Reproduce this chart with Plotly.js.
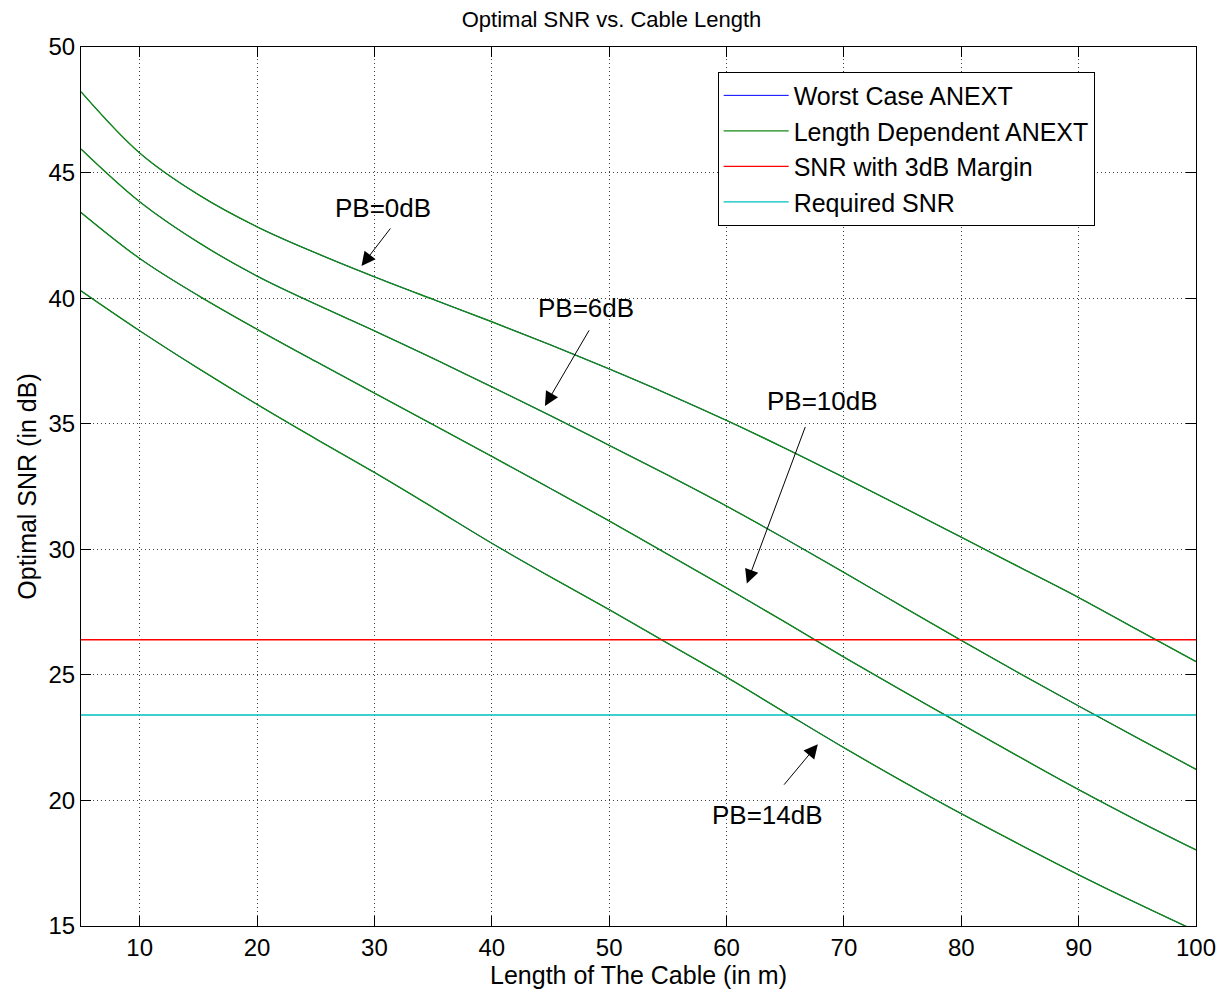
<!DOCTYPE html>
<html>
<head>
<meta charset="utf-8">
<script src="https://cdn.plot.ly/plotly-3.0.1.min.js"></script>
<style>
  html, body { margin: 0; padding: 0; background: #fff; }
  #chart { width: 1223px; height: 995px; }
</style>
</head>
<body>
<div id="chart"></div>
<script>
// Cable length (m)
const lengths = [5, 10, 15, 20, 25, 30, 35, 40, 45, 50, 55, 60, 65, 70, 75, 80, 85, 90, 95, 100];

// Optimal SNR (dB) for each power back-off
const snrPB0  = [48.22, 45.78, 44.12, 42.84, 41.80, 40.85, 39.95, 39.06, 38.14, 37.18, 36.18, 35.13, 34.02, 32.86, 31.68, 30.48, 29.28, 28.08, 26.80, 25.53];
const snrPB6  = [45.94, 43.84, 42.22, 40.88, 39.76, 38.70, 37.60, 36.47, 35.32, 34.14, 32.95, 31.72, 30.42, 29.08, 27.72, 26.37, 25.05, 23.76, 22.49, 21.24];
const snrPB10 = [43.41, 41.58, 40.10, 38.76, 37.48, 36.22, 34.96, 33.70, 32.42, 31.13, 29.80, 28.46, 27.10, 25.71, 24.36, 23.04, 21.72, 20.43, 19.20, 18.03];
const snrPB14 = [40.29, 38.70, 37.20, 35.77, 34.40, 33.06, 31.66, 30.24, 28.90, 27.60, 26.25, 24.91, 23.50, 22.10, 20.76, 19.47, 18.24, 17.04, 15.90, 14.80];

const marginSNR = 26.4;
const requiredSNR = 23.4;
const xRange = [5, 100];

const curveSets = [snrPB0, snrPB6, snrPB10, snrPB14];
const curveLabels = ["PB=0dB", "PB=6dB", "PB=10dB", "PB=14dB"];

// label positions (data coords) and arrow tips
const labelX = [30.73, 48.03, 68.15, 63.46];
const labelY = [43.59, 39.60, 35.90, 19.41];
const tipX   = [28.9, 44.53, 61.73, 67.78];
const tipY   = [41.28, 35.71, 28.64, 22.24];
const tailDX = [30, 45, 59, -35];
const tailDY = [-39, -77, -158, 42];

const FONT = "Liberation Sans, Arial, Helvetica, sans-serif";

const traces = [];
curveSets.forEach((ys, i) => {
  traces.push({
    x: lengths, y: ys, type: "scatter", mode: "lines",
    name: "Worst Case ANEXT", legendgroup: "wc", showlegend: i === 0,
    line: { color: "#0000FF", width: 1.0, shape: "spline", smoothing: 1 },
    hoverinfo: "skip"
  });
});
curveSets.forEach((ys, i) => {
  traces.push({
    x: lengths, y: ys, type: "scatter", mode: "lines",
    name: "Length Dependent ANEXT", legendgroup: "ld", showlegend: i === 0,
    line: { color: "#138a13", width: 1.4, shape: "spline", smoothing: 1 },
    hoverinfo: "skip"
  });
});
traces.push({
  x: xRange, y: [marginSNR, marginSNR], type: "scatter", mode: "lines",
  name: "SNR with 3dB Margin", line: { color: "#FF0000", width: 1.4 }
});
traces.push({
  x: xRange, y: [requiredSNR, requiredSNR], type: "scatter", mode: "lines",
  name: "Required SNR", line: { color: "#00BFBF", width: 1.4 }
});

const annotations = [];
curveLabels.forEach((t, i) => {
  annotations.push({
    x: tipX[i], y: tipY[i], xref: "x", yref: "y",
    ax: tailDX[i], ay: tailDY[i], axref: "pixel", ayref: "pixel",
    text: "", showarrow: true, arrowhead: 2, arrowsize: 2.8, arrowwidth: 1,
    arrowcolor: "#000", standoff: 0
  });
  annotations.push({
    x: labelX[i], y: labelY[i], xref: "x", yref: "y",
    text: t, showarrow: false, xanchor: "center", yanchor: "middle",
    font: { family: FONT, size: 26, color: "#000" }
  });
});

const axisCommon = {
  showline: true, linecolor: "#000", linewidth: 1, mirror: "allticks",
  ticks: "inside", ticklen: 10, tickwidth: 1, tickcolor: "#000",
  showgrid: true, gridcolor: "#404040", griddash: "1px,3px", gridwidth: 1,
  zeroline: false,
  tickfont: { family: FONT, size: 24, color: "#000" }
};

const layout = {
  width: 1223, height: 995,
  margin: { l: 81, r: 27, t: 47, b: 69 },
  paper_bgcolor: "#fff", plot_bgcolor: "#fff",
  title: { text: "Optimal SNR vs. Cable Length", font: { family: FONT, size: 22, color: "#000" },
           x: 0.5, xanchor: "center", y: 0.981, yanchor: "middle" },
  xaxis: Object.assign({}, axisCommon, {
    range: xRange, tickvals: [10, 20, 30, 40, 50, 60, 70, 80, 90, 100],
    title: { text: "Length of The Cable (in m)", font: { family: FONT, size: 25, color: "#000" }, standoff: 4 }
  }),
  yaxis: Object.assign({}, axisCommon, {
    range: [15, 50], tickvals: [15, 20, 25, 30, 35, 40, 45, 50],
    title: { text: "Optimal SNR (in dB)", font: { family: FONT, size: 25, color: "#000" }, standoff: 4 }
  }),
  legend: {
    x: 0.571, y: 0.972, xanchor: "left", yanchor: "top",
    bgcolor: "#fff", bordercolor: "#000", borderwidth: 1,
    font: { family: FONT, size: 25, color: "#000" },
    itemwidth: 65, tracegroupgap: 0
  },
  annotations: annotations,
  showlegend: true
};

Plotly.newPlot("chart", traces, layout, { displayModeBar: false, staticPlot: true });
</script>
</body>
</html>
